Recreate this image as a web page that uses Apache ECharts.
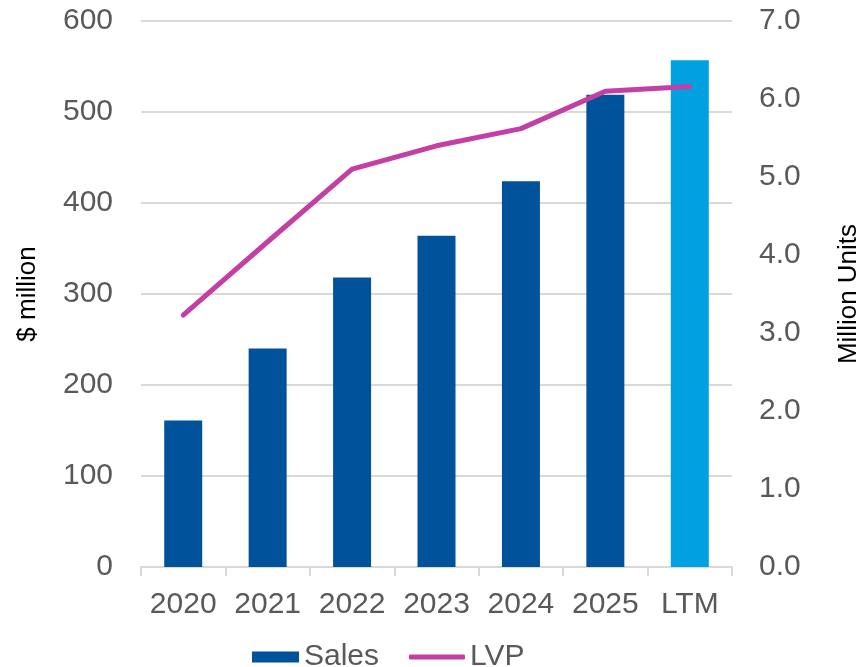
<!DOCTYPE html>
<html>
<head>
<meta charset="utf-8">
<script src="https://cdn.jsdelivr.net/npm/echarts@6/dist/echarts.min.js"></script>
<style>
  html, body { margin: 0; padding: 0; background: #fff; }
  #chart { width: 864px; height: 667px; }
</style>
</head>
<body>
<div id="chart"></div>
<script>
// data
const categories = ["2020", "2021", "2022", "2023", "2024", "2025", "LTM"];
const salesValues = [161, 240, 318, 364, 424, 519, 557];
const lvpValues = [3.23, 4.17, 5.1, 5.4, 5.62, 6.1, 6.16];
const leftTicks = [0, 100, 200, 300, 400, 500, 600];
const rightTicks = [0, 1, 2, 3, 4, 5, 6, 7];

const darkBlue = "#00539a";
const lightBlue = "#00a0e1";
const magenta = "#c43fa4";
const grey = "#595959";
const gridGrey = "#d9d9d9";
const font = "Liberation Sans";

let chart = echarts.init(document.getElementById("chart"));

let salesData = salesValues.map(function (v, i) {
  return categories[i] === "LTM"
    ? { value: v, itemStyle: { color: lightBlue } }
    : v;
});

let option = {
  animation: false,
  grid: {
    left: 141, right: 132, top: 21, bottom: 100,
    containLabel: false,
    outerBoundsMode: "none",
  },
  legend: [
    {
      left: 247, top: 637,
      itemWidth: 47, itemHeight: 11,
      textStyle: { fontFamily: font, fontSize: 30, color: grey },
      data: [{ name: "Sales", icon: "rect" }],
    },
    {
      left: 404, top: 637,
      itemWidth: 56, itemHeight: 5,
      textStyle: { fontFamily: font, fontSize: 30, color: grey },
      data: [{ name: "LVP", icon: "roundRect", itemStyle: { color: magenta } }],
    },
  ],
  xAxis: {
    type: "category",
    data: categories,
    axisLine: { lineStyle: { color: gridGrey, width: 2 } },
    axisTick: { show: true, length: 9, lineStyle: { color: gridGrey, width: 2 } },
    axisLabel: { interval: 0, color: grey, fontFamily: font, fontSize: 30, margin: 23 },
  },
  yAxis: [
    {
      type: "value",
      min: leftTicks[0],
      max: leftTicks[leftTicks.length - 1],
      interval: 100,
      name: "$ million",
      nameLocation: "middle",
      nameGap: 100,
      nameRotate: 90,
      nameTextStyle: { fontFamily: font, fontSize: 26, color: "#000" },
      axisLine: { show: false },
      axisTick: { show: false },
      axisLabel: { color: grey, fontFamily: font, fontSize: 30, margin: 28 },
      splitLine: { lineStyle: { color: gridGrey, width: 2 } },
    },
    {
      type: "value",
      min: rightTicks[0],
      max: rightTicks[rightTicks.length - 1],
      interval: 1,
      name: "Million Units",
      nameLocation: "middle",
      nameGap: 104,
      nameRotate: 90,
      nameTextStyle: { fontFamily: font, fontSize: 26, color: "#000" },
      axisLine: { show: false },
      axisTick: { show: false },
      axisLabel: {
        color: grey, fontFamily: font, fontSize: 30, margin: 27,
        formatter: function (v) { return v.toFixed(1); },
      },
      splitLine: { show: false },
    },
  ],
  series: [
    {
      name: "Sales",
      type: "bar",
      barWidth: 38,
      itemStyle: { color: darkBlue },
      data: salesData,
    },
    {
      name: "LVP",
      type: "line",
      yAxisIndex: 1,
      symbol: "none",
      z: 5,
      itemStyle: { color: magenta },
      lineStyle: { color: magenta, width: 5, cap: "round", join: "round" },
      data: lvpValues,
    },
  ],
};

chart.setOption(option);
</script>
</body>
</html>
